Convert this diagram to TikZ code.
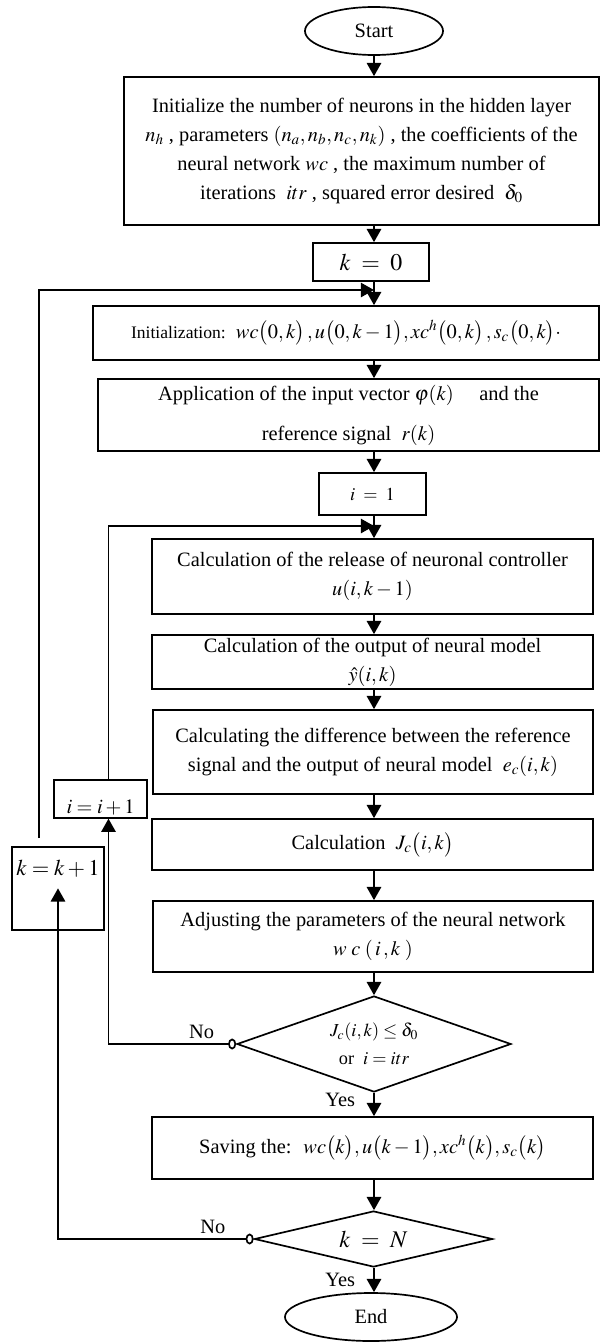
\documentclass[tikz,border=0pt]{standalone}
\usepackage{mathptmx}
\usepackage{fontspec}
\setmainfont{Liberation Serif}
\usepackage{tikz}
\usetikzlibrary{shapes.geometric, arrows.meta, calc}
\tikzset{
  block/.style={rectangle, draw=black, line width=1.2pt, inner sep=0pt,
    align=center, font=\fontsize{14.5}{20.5}\selectfont},
  terminal/.style={ellipse, draw=black, line width=1.2pt, inner sep=0pt,
    font=\fontsize{14.5}{20.5}\selectfont},
  decision/.style={diamond, draw=black, line width=1.2pt, inner sep=0pt,
    align=center, font=\fontsize{13}{20}\selectfont},
  arrow/.style={-{Triangle[length=0.33cm, width=0.36cm]}, line width=1.2pt, color=black},
  noarrow/.style={{Circle[open, length=0.2cm, width=0.27cm]}-{Triangle[length=0.33cm, width=0.36cm]},
    line width=1.2pt, color=black},
  lbl/.style={inner sep=0pt, font=\fontsize{14.5}{17}\selectfont}
}

\begin{document}
\begin{tikzpicture}[x=0.025cm, y=-0.025cm]
  \useasboundingbox (0,0) rectangle (600,1342);

  % Main flow
  \node[terminal, minimum width=3.45cm, minimum height=1.2cm] (start) at (374,31) {Start};
  \node[block, minimum width=11.875cm, minimum height=3.7cm] (init) at (361.5,151) {Initialize the number of neurons in the hidden layer\\
    $n_h$ , parameters $(n_a,n_b,n_c,n_k)$ , the coefficients of the\\
    neural network $wc$ , the maximum number of\\
    iterations \ $itr$ , squared error desired \ $\delta_0$};
  \node[block, minimum width=2.9cm, minimum height=0.95cm, font=\fontsize{17}{20}\selectfont] (k0) at (371,262) {$k\;=\;0$};
  \coordinate (kjoin) at (374,290);
  \node[block, minimum width=12.65cm, minimum height=1.35cm] (initz) at (346,333) {{\fontsize{12.5}{15}\selectfont Initialization:}\ \ $wc\big(0,k\big)\,,u\big(0,k-1\big),xc^h\big(0,k\big)\,,s_c\big(0,k\big)\cdot$};
  \node[block, minimum width=12.525cm, minimum height=1.8cm] (app) at (348.5,415) {Application of the input vector $\varphi(k)$ \quad and the\\[8pt]
    reference signal \ $r(k)$};
  \node[block, minimum width=2.675cm, minimum height=1.05cm, font=\fontsize{13}{16}\selectfont] (i1) at (372.5,494) {$i\;=\;1$};
  \coordinate (ijoin) at (374,526);
  \node[block, minimum width=11.025cm, minimum height=1.875cm] (rel) at (372.5,576.5) {Calculation of the release of neuronal controller\\ $u(i,k-1)$};
  \node[block, minimum width=11.025cm, minimum height=1.35cm] (out) at (372.5,662) {Calculation of the output of neural model\\ $\hat{y}(i,k)$};
  \node[block, minimum width=11cm, minimum height=2.1cm] (diff) at (373,752) {Calculating the difference between the reference\\
    signal and the output of neural model \ $e_c(i,k)$};
  \node[block, minimum width=11.025cm, minimum height=1.275cm] (calcj) at (372.5,844.5) {Calculation \ $J_c\big(i,k\big)$};
  \node[block, minimum width=11cm, minimum height=1.775cm] (adj) at (373,936.5) {Adjusting the parameters of the neural network\\ $w\;c\;(\,i\,,k\;)$};
  \node[decision, aspect=2.85, minimum width=6.85cm, minimum height=2.4cm] (dec1) at (374,1044) {$J_c(i,k)\leq\delta_0$\\ or \ $i=itr$};
  \node[block, minimum width=11.025cm, minimum height=1.55cm] (save) at (372.5,1148) {Saving the: \ $wc\big(k\big),u\big(k-1\big),xc^h\big(k\big),s_c\big(k\big)$};
  \node[decision, aspect=4.25, minimum width=5.95cm, minimum height=1.4cm, font=\fontsize{17}{20}\selectfont] (dec2) at (373.5,1239) {$k\;=\;N$};
  \node[terminal, minimum width=4.3cm, minimum height=1.2cm] (endn) at (371,1317) {End};

  % Loop counters
  \node[block, anchor=north, minimum width=2.325cm, text height=0.85cm, text depth=0.1cm] (iinc) at (100.5,779) {$i=i+1$};
  \node[block, anchor=north, minimum width=2.3cm, text height=0.725cm, text depth=1.35cm, font=\fontsize{16}{20}\selectfont] (kinc) at (58,846) {$k=k+1$};

  % Arrows
  \draw[arrow] (start.south) -- (start.south |- init.north);
  \draw[arrow] (init.south -| start) -- (k0.north -| start);
  \draw[arrow] (k0.south -| start) -- (initz.north -| start);
  \draw[arrow] (initz.south -| start) -- (app.north -| start);
  \draw[arrow] (app.south -| start) -- (i1.north -| start);
  \draw[arrow] (i1.south -| start) -- (rel.north -| start);
  \draw[arrow] (rel.south -| start) -- (out.north -| start);
  \draw[arrow] (out.south -| start) -- (diff.north -| start);
  \draw[arrow] (diff.south -| start) -- (calcj.north -| start);
  \draw[arrow] (calcj.south -| start) -- (adj.north -| start);
  \draw[arrow] (adj.south -| start) -- (dec1.north);
  \draw[arrow] (dec1.south) -- node[lbl, left=0.45cm, pos=0.3] {Yes} (dec1.south |- save.north);
  \draw[arrow] (save.south -| start) -- (dec2.north -| start);
  \draw[arrow] (dec2.south -| start) -- node[lbl, left=0.45cm, pos=0.5] {Yes} (endn.north -| start);

  % Inner and outer loops
  \draw[noarrow] (dec1.west) -| node[lbl, above=0.12cm, pos=0.135] {No} ($(iinc.south)+(8,0)$);
  \draw[arrow] ($(iinc.north)+(8,0)$) |- (ijoin);
  \draw[noarrow] (dec2.west) -| node[lbl, above=0.12cm, pos=0.104] {No} (kinc.center);
  \draw[arrow, shorten <=0.2cm] ($(kinc.north)+(-19,0)$) |- (kjoin);
\end{tikzpicture}
\end{document}
